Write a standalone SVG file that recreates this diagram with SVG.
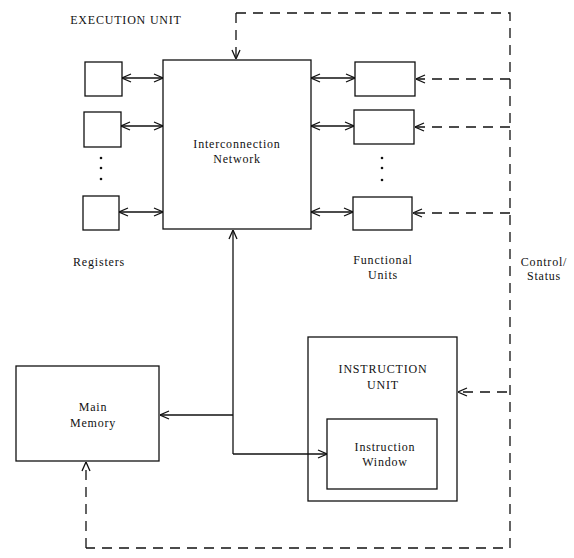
<svg xmlns="http://www.w3.org/2000/svg" width="574" height="558" viewBox="0 0 574 558">
<defs>
<style>
.box{fill:#fff;stroke:#111;stroke-width:1.3}
.ln{fill:none;stroke:#111;stroke-width:1.3}
.ds{fill:none;stroke:#111;stroke-width:1.3;stroke-dasharray:10 7}
.t{font-family:"Liberation Serif",serif;font-size:12px;letter-spacing:0.8px;fill:#111;text-anchor:middle}
.dot{fill:#111}
</style>
<marker id="ah" viewBox="0 0 10 10" refX="10" refY="5" markerWidth="10" markerHeight="10" markerUnits="userSpaceOnUse" orient="auto-start-reverse">
<path d="M1,1 L10,5 L1,9" fill="none" stroke="#111" stroke-width="1.3"/>
</marker>
</defs>
<rect width="574" height="558" fill="#fff"/>
<text class="t" x="126" y="24">EXECUTION UNIT</text>

<g id="network">
<rect class="box" x="163" y="60" width="148" height="169"/>
<text class="t" x="237" y="148">Interconnection</text>
<text class="t" x="237" y="163">Network</text>
</g>

<g id="registers">
<rect class="box" x="85" y="62" width="37" height="34"/>
<rect class="box" x="84" y="112" width="37" height="35"/>
<rect class="box" x="83" y="196" width="36" height="34"/>
<circle class="dot" cx="101" cy="158" r="1.3"/>
<circle class="dot" cx="101" cy="168" r="1.3"/>
<circle class="dot" cx="101" cy="179" r="1.3"/>
<text class="t" x="99" y="266">Registers</text>
</g>

<g id="functional-units">
<rect class="box" x="355" y="62" width="60" height="34"/>
<rect class="box" x="354" y="110" width="60" height="34"/>
<rect class="box" x="353" y="197" width="59" height="33"/>
<circle class="dot" cx="382" cy="158" r="1.3"/>
<circle class="dot" cx="382" cy="168" r="1.3"/>
<circle class="dot" cx="382" cy="180" r="1.3"/>
<text class="t" x="383" y="264">Functional</text>
<text class="t" x="383" y="279">Units</text>
</g>

<g id="control-status">
<text class="t" x="544" y="266">Control/</text>
<text class="t" x="544" y="280">Status</text>
</g>

<g id="main-memory">
<rect class="box" x="16" y="366" width="143" height="95"/>
<text class="t" x="93" y="411">Main</text>
<text class="t" x="93" y="427">Memory</text>
</g>

<g id="instruction-unit">
<rect class="box" x="308" y="337" width="149" height="164"/>
<text class="t" x="383" y="373">INSTRUCTION</text>
<text class="t" x="383" y="389">UNIT</text>
</g>

<g id="instruction-window">
<rect class="box" x="327" y="419" width="110" height="70"/>
<text class="t" x="385" y="451">Instruction</text>
<text class="t" x="385" y="466">Window</text>
</g>

<g id="connectors">
<path class="ds" d="M236,13 H510 V548 H86"/>
<path class="ds" d="M236,13 V59" marker-end="url(#ah)"/>
<path class="ds" d="M86,548 V462" marker-end="url(#ah)"/>
<path class="ds" d="M510,79 H416" marker-end="url(#ah)"/>
<path class="ds" d="M510,127 H415" marker-end="url(#ah)"/>
<path class="ds" d="M510,213 H413" marker-end="url(#ah)"/>
<path class="ds" d="M507,392 H458" marker-end="url(#ah)"/>
<path class="ln" d="M122,78 H163" marker-start="url(#ah)" marker-end="url(#ah)"/>
<path class="ln" d="M121,126 H163" marker-start="url(#ah)" marker-end="url(#ah)"/>
<path class="ln" d="M119,212 H163" marker-start="url(#ah)" marker-end="url(#ah)"/>
<path class="ln" d="M311,78 H355" marker-start="url(#ah)" marker-end="url(#ah)"/>
<path class="ln" d="M311,126 H354" marker-start="url(#ah)" marker-end="url(#ah)"/>
<path class="ln" d="M311,212 H353" marker-start="url(#ah)" marker-end="url(#ah)"/>
<path class="ln" d="M233,454 V230" marker-end="url(#ah)"/>
<path class="ln" d="M233,415 H160" marker-end="url(#ah)"/>
<path class="ln" d="M233,454 H327" marker-end="url(#ah)"/>
</g>
</svg>
